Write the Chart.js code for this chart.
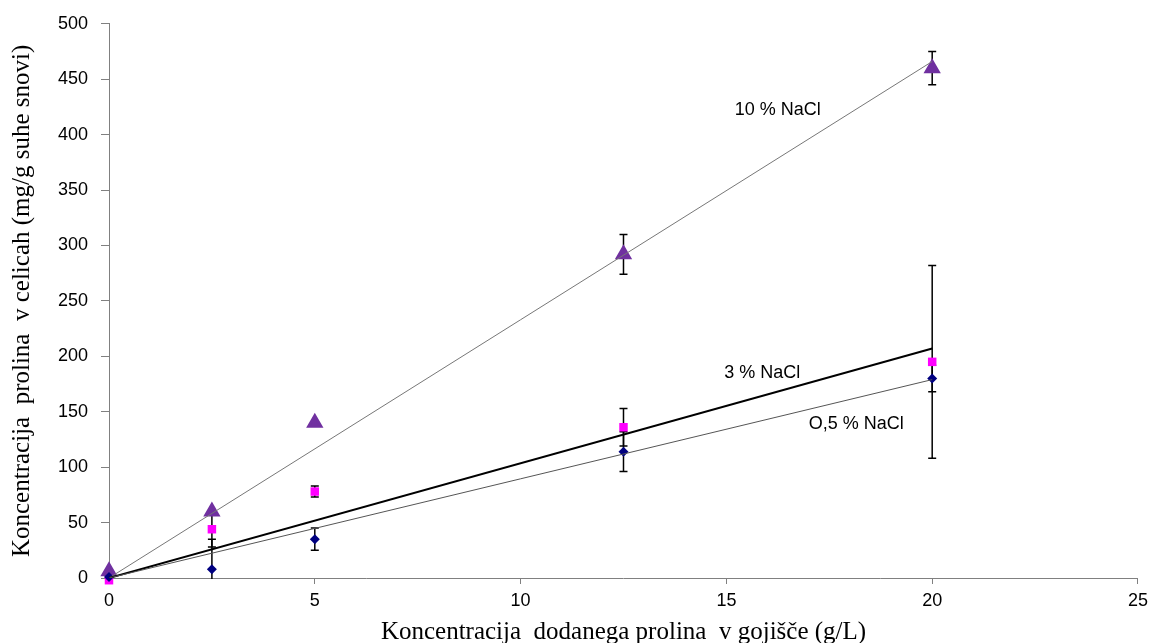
<!DOCTYPE html>
<html>
<head>
<meta charset="utf-8">
<script src="https://cdn.jsdelivr.net/npm/chart.js@4.4.1/dist/chart.umd.min.js"></script>
<style>
  html, body { margin: 0; padding: 0; background: #fff; }
  #wrap { width: 1154px; height: 643px; }
</style>
</head>
<body>
<div id="wrap"><canvas id="prolineChart" width="1154" height="643"></canvas></div>
<script>
const xValues = [0, 2.5, 5, 12.5, 20];

const nacl05 = [1, 8, 35, 114, 180];
const nacl05Err = [0, 27, 10, 18, 12];

const nacl3 = [-2, 44, 78, 136, 195];
const nacl3Err = [0, 16, 5, 17, 87];

const nacl10 = [6, 60, 140, 292, 460];
const nacl10Err = [0, 0, 0, 18, 15];

// Linear trend lines (start and end values)
const trendX = [0, 20];
const trend05 = [0, 179];
const trend3 = [0, 207];
const trend10 = [0, 466];

const seriesLabels = ['O,5 % NaCl', '3 % NaCl', '10 % NaCl'];

const toPoints = (xs, ys) => xs.map((x, i) => ({ x: x, y: ys[i] }));

// Draw error bars behind the markers
const errorBars = {
    id: 'errorBars',
    beforeDatasetsDraw(chart) {
        const { ctx, chartArea, scales: { x, y } } = chart;
        ctx.save();
        ctx.beginPath();
        ctx.rect(chartArea.left, chartArea.top, chartArea.width, chartArea.height + 1);
        ctx.clip();
        ctx.strokeStyle = '#000';
        ctx.lineWidth = 1.5;
        chart.data.datasets.forEach(ds => {
            if (!ds.errors) return;
            ds.data.forEach((p, i) => {
                const e = ds.errors[i];
                if (!e) return;
                const px = x.getPixelForValue(p.x);
                const top = y.getPixelForValue(p.y + e);
                const bot = y.getPixelForValue(p.y - e);
                ctx.beginPath();
                ctx.moveTo(px, top); ctx.lineTo(px, bot);
                ctx.moveTo(px - 4, top); ctx.lineTo(px + 4, top);
                ctx.moveTo(px - 4, bot); ctx.lineTo(px + 4, bot);
                ctx.stroke();
            });
        });
        ctx.restore();
    }
};

// Series names written next to the trend lines
const lineLabels = {
    id: 'lineLabels',
    afterDatasetsDraw(chart) {
        const { ctx, scales: { x, y } } = chart;
        const spots = [
            { text: seriesLabels[2], x: 15.2, y: 422 },
            { text: seriesLabels[1], x: 14.95, y: 185 },
            { text: seriesLabels[0], x: 17.0, y: 139 }
        ];
        ctx.save();
        ctx.font = '18px "Liberation Sans", Arial, sans-serif';
        ctx.fillStyle = '#000';
        ctx.textBaseline = 'middle';
        ctx.textAlign = 'left';
        spots.forEach(s => {
            ctx.fillText(s.text, x.getPixelForValue(s.x), y.getPixelForValue(s.y));
        });
        ctx.restore();
    }
};

const tickFont = { family: '"Liberation Sans", Arial, sans-serif', size: 18 };
const titleFont = { family: '"Liberation Serif", "Times New Roman", serif', size: 25 };

new Chart(document.getElementById('prolineChart'), {
    type: 'scatter',
    data: {
        datasets: [
            {
                label: 'trend 0,5',
                type: 'line',
                data: toPoints(trendX, trend05),
                borderColor: '#555',
                borderWidth: 1,
                pointRadius: 0,
                fill: false
            },
            {
                label: 'trend 3',
                type: 'line',
                data: toPoints(trendX, trend3),
                borderColor: '#000',
                borderWidth: 2,
                pointRadius: 0,
                fill: false
            },
            {
                label: 'trend 10',
                type: 'line',
                data: toPoints(trendX, trend10),
                borderColor: '#777',
                borderWidth: 1,
                pointRadius: 0,
                fill: false
            },
            {
                label: seriesLabels[0],
                data: toPoints(xValues, nacl05),
                errors: nacl05Err,
                pointStyle: 'rectRot',
                pointRadius: 5,
                backgroundColor: '#000080',
                borderColor: '#000080',
                borderWidth: 0,
                clip: false
            },
            {
                label: seriesLabels[1],
                data: toPoints(xValues, nacl3),
                errors: nacl3Err,
                pointStyle: 'rect',
                pointRadius: 6,
                backgroundColor: '#FF00FF',
                borderColor: '#FF00FF',
                borderWidth: 0,
                clip: false
            },
            {
                label: seriesLabels[2],
                data: toPoints(xValues, nacl10),
                errors: nacl10Err,
                pointStyle: 'triangle',
                pointRadius: 7,
                backgroundColor: '#7030A0',
                borderColor: '#7030A0',
                borderWidth: 3,
                borderJoinStyle: 'round',
                clip: false
            }
        ]
    },
    options: {
        responsive: false,
        animation: false,
        layout: { padding: { top: 23, right: 16, left: 0, bottom: 0 } },
        plugins: {
            legend: { display: false },
            tooltip: { enabled: false }
        },
        scales: {
            x: {
                type: 'linear',
                min: 0,
                max: 25,
                ticks: { stepSize: 5, color: '#000', font: tickFont, padding: 6, maxRotation: 0 },
                grid: { drawOnChartArea: false, drawTicks: true, tickLength: 6, color: '#808080' },
                border: { color: '#808080', width: 1 },
                title: {
                    display: true,
                    text: 'Koncentracija  dodanega prolina  v gojišče (g/L)',
                    color: '#000',
                    font: titleFont,
                    padding: { top: 0, bottom: -4 }
                },
                afterFit: scale => { scale.height = 65; }
            },
            y: {
                min: 0,
                max: 500,
                ticks: { stepSize: 50, color: '#000', font: tickFont, padding: 13 },
                grid: { drawOnChartArea: false, drawTicks: true, tickLength: 8, color: '#808080' },
                border: { color: '#808080', width: 1 },
                title: {
                    display: true,
                    text: 'Koncentracija  prolina  v celicah (mg/g suhe snovi)',
                    color: '#000',
                    font: titleFont,
                    padding: { top: 7, bottom: 0 }
                },
                afterFit: scale => { scale.width = 109; }
            }
        }
    },
    plugins: [errorBars, lineLabels]
});
</script>
</body>
</html>
